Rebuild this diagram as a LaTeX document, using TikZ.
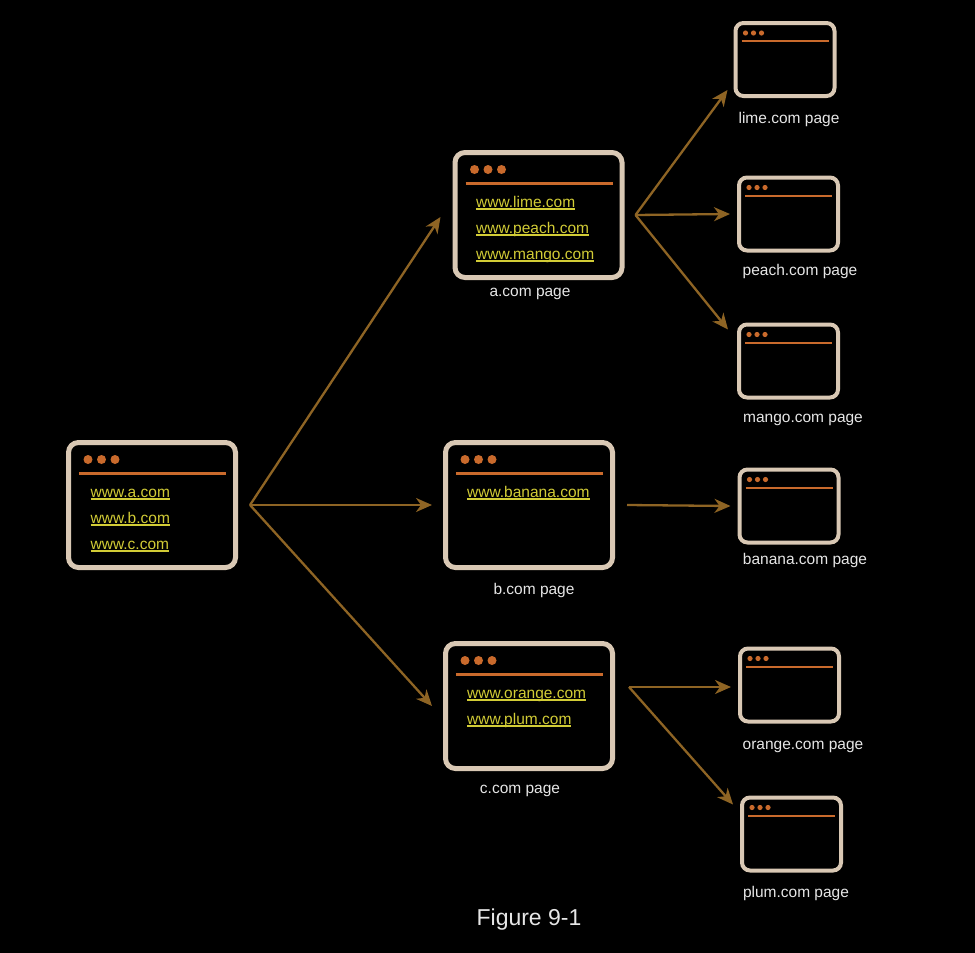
\documentclass[tikz,border=0pt]{standalone}
\usepackage{fontspec}
\setmainfont{Liberation Sans}
\usetikzlibrary{arrows.meta}
\definecolor{frame}{HTML}{D9C8B4}
\definecolor{bar}{HTML}{C96A2C}
\definecolor{linkc}{HTML}{D2CC36}
\definecolor{lbl}{HTML}{E6E6E6}
\definecolor{arrc}{HTML}{8E6424}
\newcommand\ulink[1]{\setbox0\hbox{#1}\rlap{\rule[-2.8pt]{\wd0}{1.4pt}}\box0}
\newcommand\bigdecor[1]{%
  \foreach \i in {0,1,2} \fill[bar] ([xshift={22pt+13.5pt*\i}, yshift=-19.5pt]#1.north west) circle (4.5pt);
  \draw[bar, line width=3pt] ([xshift=13pt,yshift=-33pt]#1.north west) -- ([xshift=-12pt,yshift=-33pt]#1.north east);
}
\newcommand\smalldecor[1]{%
  \foreach \i in {0,1,2} \fill[bar] ([xshift={12pt+8pt*\i}, yshift=-12pt]#1.north west) circle (2.6pt);
  \draw[bar, line width=2pt] ([xshift=8pt,yshift=-20pt]#1.north west) -- ([xshift=-8pt,yshift=-20pt]#1.north east);
}
\tikzset{
  bigwin/.style={draw=frame, line width=5pt, rounded corners=10pt, fill=black, minimum width=167pt, minimum height=125pt, inner sep=0pt},
  smallwin/.style={draw=frame, line width=4pt, rounded corners=8pt, fill=black, minimum width=99pt, minimum height=73pt, inner sep=0pt},
  linktext/.style={anchor=base west, inner sep=0pt, text=linkc, font=\fontsize{15.5}{18}\selectfont},
  pagelabel/.style={anchor=base, inner sep=0pt, text=lbl, font=\fontsize{15.5}{18}\selectfont},
  flow/.style={draw=arrc, line width=2.3pt, -{Stealth[length=16pt,width=14pt,inset=5pt]}},
}
\begin{document}
\begin{tikzpicture}[x=1pt,y=-1pt]
\fill[black] (0,0) rectangle (975,953);
\useasboundingbox (0,0) rectangle (975,953);

% big windows
\node[bigwin] (L) at (152,505) {};
\node[bigwin] (A) at (538.5,215) {};
\node[bigwin] (B) at (529,505) {};
\node[bigwin] (C) at (529,706) {};
\bigdecor{L}\bigdecor{A}\bigdecor{B}\bigdecor{C}

% small windows
\node[smallwin] (lime) at (785,59.5) {};
\node[smallwin] (peach) at (788.5,214) {};
\node[smallwin] (mango) at (788.5,361) {};
\node[smallwin] (banana) at (789,506) {};
\node[smallwin] (orange) at (789.5,685) {};
\node[smallwin] (plum) at (791.5,834) {};
\smalldecor{lime}\smalldecor{peach}\smalldecor{mango}\smalldecor{banana}\smalldecor{orange}\smalldecor{plum}

% links
\node[linktext] (La) at (90.5,497) {\ulink{www.a.com}};
\node[linktext] (Lb) at (90.5,523) {\ulink{www.b.com}};
\node[linktext] (Lc) at (90.5,549) {\ulink{www.c.com}};
\node[linktext] (Alime) at (476,207) {\ulink{www.lime.com}};
\node[linktext] (Apeach) at (476,233) {\ulink{www.peach.com}};
\node[linktext] (Amango) at (476,259) {\ulink{www.mango.com}};
\node[linktext] (Bbanana) at (467,497) {\ulink{www.banana.com}};
\node[linktext] (Corange) at (467,698) {\ulink{www.orange.com}};
\node[linktext] (Cplum) at (467,724) {\ulink{www.plum.com}};

% labels
\node[pagelabel] (lA) at (530,296) {a.com page};
\node[pagelabel] (lB) at (534,594) {b.com page};
\node[pagelabel] (lC) at (520,793) {c.com page};
\node[pagelabel] (llime) at (789,123) {lime.com page};
\node[pagelabel] (lpeach) at (800,275) {peach.com page};
\node[pagelabel] (lmango) at (803,422) {mango.com page};
\node[pagelabel] (lbanana) at (805,564) {banana.com page};
\node[pagelabel] (lorange) at (803,749) {orange.com page};
\node[pagelabel] (lplum) at (796,897) {plum.com page};
\node[pagelabel, font=\fontsize{23}{27}\selectfont] (fig) at (529,925) {Figure 9-1};

% fan-out points
\coordinate (Lout) at ([xshift=12pt]L.east);
\coordinate (Aout) at ([xshift=11pt]A.east);
\coordinate (Bout) at ([xshift=12pt]B.east);
\coordinate (Cout) at ([xshift=14pt,yshift=19pt]C.east);

% arrows
\draw[flow] (Lout) -- ([xshift=-12pt,yshift=-2pt]A.west);
\draw[flow] (Lout) -- ([xshift=-11pt]B.west);
\draw[flow] (Lout) -- ([xshift=-11pt]C.west);
\draw[flow] (Aout) -- ([xshift=-6pt,yshift=8pt]lime.south west);
\draw[flow] (Aout) -- ([xshift=-7pt]peach.west);
\draw[flow] (Aout) -- ([xshift=-9pt,yshift=-7pt]mango.north west);
\draw[flow] (Bout) -- ([xshift=-7pt]banana.west);
\draw[flow] (Cout) -- ([xshift=-7pt,yshift=-2pt]orange.west);
\draw[flow] (Cout) -- ([xshift=-7pt,yshift=-9pt]plum.north west);
\end{tikzpicture}
\end{document}
